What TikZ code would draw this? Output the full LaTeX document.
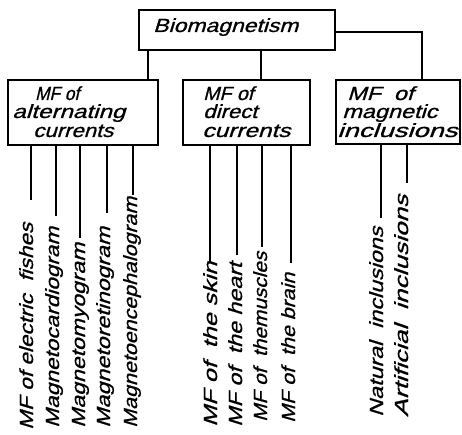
\documentclass[tikz,border=0pt]{standalone}
\usepackage{fontspec}
\setmainfont{Liberation Sans}
\newfontfamily\tech[FakeBold=0.8, FakeSlant=0.25]{Liberation Sans}
\newcommand\fw[2]{\resizebox{#1pt}{\height}{#2}}
\tikzset{
  boxnode/.style={draw, line width=1.6pt, rectangle, inner sep=0pt},
  lbl/.style={anchor=base west, inner sep=0pt, font=\tech\fontsize{19}{19}\selectfont},
  leaf/.style={rotate=90, anchor=base west, inner sep=0pt, font=\tech\fontsize{19}{19}\selectfont},
  conn/.style={line width=1.3pt}
}
\begin{document}
\begin{tikzpicture}[x=1pt,y=-1pt]
\useasboundingbox (0,0) rectangle (462,435);
% boxes
\node[boxnode, minimum width=196pt, minimum height=40pt] (bio) at (237,30) {};
\node[boxnode, minimum width=150pt, minimum height=65pt] (alt) at (83,112.5) {};
\node[boxnode, minimum width=127pt, minimum height=65pt] (dir) at (246.5,112.5) {};
\node[boxnode, minimum width=124pt, minimum height=64pt] (inc) at (398,112) {};
% box labels
\node[lbl] (tbio) at (153,32) {\fw{145}{Biomagnetism}};
\node[lbl] (a1) at (35,100) {\fw{44}{MF of}};
\node[lbl] (a2) at (12,118) {\fw{113}{alternating}};
\node[lbl] (a3) at (33,137) {\fw{80}{currents}};
\node[lbl] (d1) at (203,100) {\fw{50}{MF of}};
\node[lbl] (d2) at (203,118) {\fw{54}{direct}};
\node[lbl] (d3) at (202,137) {\fw{88}{currents}};
\node[lbl] (m1) at (347,100) {\fw{66}{MF\ \ of}};
\node[lbl] (m2) at (342,118) {\fw{95}{magnetic}};
\node[lbl] (m3) at (337,137) {\fw{120}{inclusions}};
% connectors from top box
\draw[conn] (bio.south -| 148,0) -- (alt.north -| 148,0);
\draw[conn] (bio.south -| 261,0) -- (dir.north -| 261,0);
\draw[conn] ([yshift=-2pt]bio.east) -| (inc.north -| 422,0);
% leaf texts
\node[leaf] (l1) at (33,430) {\fw{207}{MF of electric\ \ fishes}};
\node[leaf] (l2) at (59,428) {\fw{201}{Magnetocardiogram}};
\node[leaf] (l3) at (85,428) {\fw{185}{Magnetomyogram}};
\node[leaf] (l4) at (110,428) {\fw{201}{Magnetoretinogram}};
\node[leaf] (l5) at (137,428) {\fw{231}{Magnetoencephalogram}};
\node[leaf] (l6) at (217,427) {\fw{165}{MF of\ \ the skin}};
\node[leaf] (l7) at (242,427) {\fw{164}{MF of\ \ the heart}};
\node[leaf] (l8) at (267,422) {\fw{170}{MF of\ \ themuscles}};
\node[leaf] (l9) at (295,423) {\fw{150}{MF of\ \ the brain}};
\node[leaf] (l10) at (383,417) {\fw{190}{Natural\ \ inclusions}};
\node[leaf] (l11) at (408,417) {\fw{222}{Artificial\ \ inclusions}};
% leaf connector ends
\coordinate (e1) at (31,200);
\coordinate (e2) at (56,216);
\coordinate (e3) at (80,238);
\coordinate (e4) at (107,213);
\coordinate (e5) at (133,195);
\coordinate (e6) at (210,262);
\coordinate (e7) at (237,255);
\coordinate (e8) at (262,247);
\coordinate (e9) at (291,263);
\coordinate (e10) at (381,218);
\coordinate (e11) at (407,183);
\foreach \e in {e1,e2,e3,e4,e5} \draw[conn] (alt.south -| \e) -- (\e);
\foreach \e in {e6,e7,e8,e9} \draw[conn] (dir.south -| \e) -- (\e);
\foreach \e in {e10,e11} \draw[conn] (inc.south -| \e) -- (\e);
\end{tikzpicture}
\end{document}
